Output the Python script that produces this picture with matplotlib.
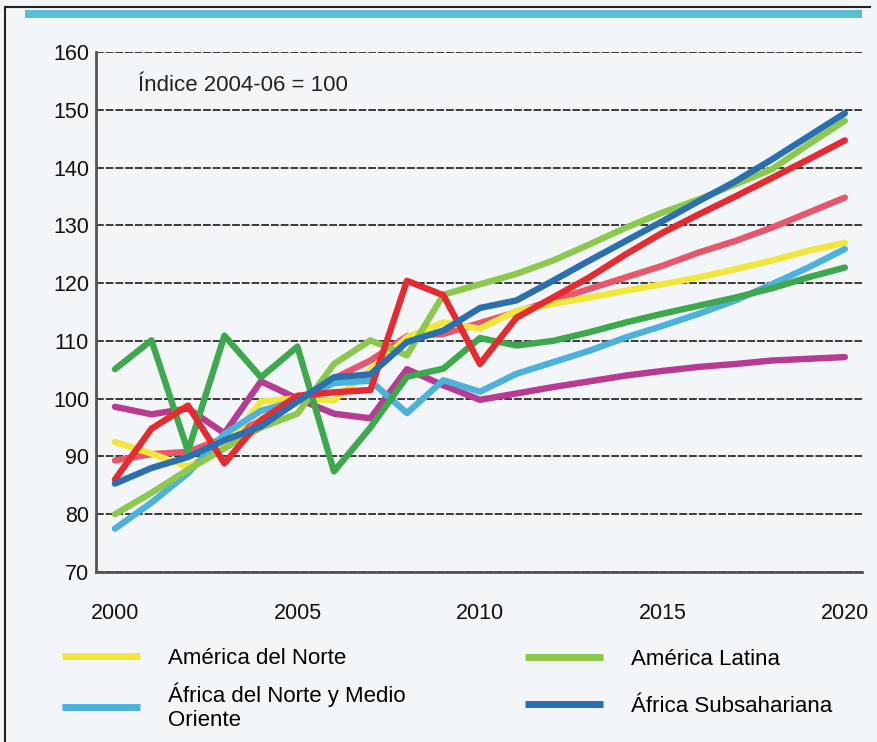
import matplotlib.pyplot as plt
from matplotlib.lines import Line2D
from matplotlib.patches import Rectangle

plt.rcParams['font.family'] = ['Liberation Sans', 'DejaVu Sans']

# años e índices (2004-06 = 100)
years = list(range(2000, 2021))

america_norte = [92.5, 90.5, 88.2, 91.6, 99.5, 100.1, 99.7, 105.0, 110.6, 113.2, 112.1,
                 115.2, 116.4, 117.5, 118.7, 119.8, 121.0, 122.4, 123.9, 125.6, 127.0]
america_latina = [80.0, 83.7, 87.7, 91.4, 95.0, 97.4, 106.0, 110.1, 107.5, 118.0, 119.8,
                  121.6, 123.9, 126.7, 129.6, 132.2, 134.5, 137.1, 139.7, 144.0, 148.1]
africa_norte_mo = [77.5, 82.0, 87.1, 93.9, 97.9, 99.7, 102.7, 103.1, 97.5, 103.2, 101.2,
                   104.3, 106.3, 108.3, 110.6, 112.6, 114.7, 117.0, 119.8, 122.7, 125.9]
africa_subsahariana = [85.3, 88.0, 89.9, 92.8, 95.2, 99.5, 103.7, 104.2, 109.8, 111.8, 115.7,
                       117.0, 120.4, 123.9, 127.3, 130.7, 134.2, 137.6, 141.4, 145.4, 149.4]
rojo = [86.0, 94.8, 98.8, 88.8, 96.3, 100.5, 101.1, 101.5, 120.4, 117.9, 106.0,
        114.0, 117.5, 121.0, 125.0, 128.7, 131.9, 135.0, 138.2, 141.4, 144.7]
rosa = [89.3, 90.4, 90.8, 93.2, 96.2, 99.8, 103.5, 106.6, 110.8, 111.2, 113.1,
        115.0, 117.0, 119.0, 121.0, 123.0, 125.3, 127.3, 129.6, 132.2, 134.8]
verde_oscuro = [105.1, 110.1, 90.9, 110.9, 103.7, 109.0, 87.4, 95.0, 103.8, 105.2, 110.5,
                109.2, 110.0, 111.5, 113.2, 114.7, 116.1, 117.5, 119.1, 121.0, 122.7]
magenta = [98.6, 97.3, 98.3, 94.0, 103.0, 100.0, 97.4, 96.6, 105.1, 102.3, 99.8,
           100.9, 102.0, 103.0, 104.0, 104.8, 105.5, 106.0, 106.6, 106.9, 107.2]

bg = '#f3f6f9'
fig = plt.figure(figsize=(8.77, 7.42), dpi=100, facecolor=bg)
ax = fig.add_axes([96 / 877, 1 - 572 / 742, (862 - 96) / 877, (572 - 52) / 742])
ax.set_facecolor(bg)

lw = 4.6
ax.plot(years, magenta, color='#b83a92', lw=lw, solid_capstyle='round')
ax.plot(years, rosa, color='#e8566b', lw=lw, solid_capstyle='round')
l_norte, = ax.plot(years, america_norte, color='#f0e63c', lw=lw, solid_capstyle='round')
l_nmo, = ax.plot(years, africa_norte_mo, color='#4cb2dc', lw=lw, solid_capstyle='round')
l_lat, = ax.plot(years, america_latina, color='#8cc84b', lw=lw, solid_capstyle='round')
ax.plot(years, verde_oscuro, color='#3ea84c', lw=lw, solid_capstyle='round')
ax.plot(years, rojo, color='#e62a2f', lw=lw, solid_capstyle='round')
l_sub, = ax.plot(years, africa_subsahariana, color='#2a6fae', lw=lw, solid_capstyle='round')

ax.set_xlim(1999.48, 2020.47)
ax.set_ylim(70, 160)
ax.set_yticks(range(70, 161, 10))
ax.set_xticks([2000, 2005, 2010, 2015, 2020])
ax.grid(axis='y', color='#3a3a3a', lw=1.4, linestyle=(0, (4, 1)))
ax.set_axisbelow(True)
for s in ['top', 'right']:
    ax.spines[s].set_visible(False)
for s in ['left', 'bottom']:
    ax.spines[s].set_color('#555555')
    ax.spines[s].set_linewidth(2)
ax.tick_params(axis='both', length=0, labelsize=15.5, colors='#111111')
ax.tick_params(axis='y', pad=5)
ax.tick_params(axis='x', pad=22)

ax.text(0.055, 0.955, 'Índice 2004-06 = 100', transform=ax.transAxes,
        fontsize=16, color='#222222', va='top')

# leyenda en dos bloques para alinear las filas como en el original
leg_opts = dict(loc='upper left', bbox_transform=fig.transFigure, frameon=False,
                fontsize=16, handlelength=3.5, handletextpad=1.25,
                borderpad=0, borderaxespad=0)
leg1 = ax.legend([l_norte, l_nmo],
                 ['América del Norte', 'África del Norte y Medio\nOriente'],
                 bbox_to_anchor=(62 / 877, 1 - 648 / 742), labelspacing=0.6, **leg_opts)
ax.add_artist(leg1)
leg2 = ax.legend([l_lat, l_sub], ['América Latina', 'África Subsahariana'],
                 bbox_to_anchor=(525 / 877, 1 - 649 / 742), labelspacing=1.15, **leg_opts)
for leg in (leg1, leg2):
    for h in leg.legend_handles:
        h.set_linewidth(5)
        h.set_solid_capstyle('butt')

# marco de la página escaneada y franja superior
fig.add_artist(Rectangle((25 / 877, 1 - 18 / 742), (862 - 25) / 877, 8 / 742,
                         transform=fig.transFigure, color='#5bbcd6', lw=0))
fig.add_artist(Line2D([5 / 877, 5 / 877], [0, 1 - 7 / 742], transform=fig.transFigure,
                      color='#222222', lw=1.5))
fig.add_artist(Line2D([5 / 877, 870 / 877], [1 - 7 / 742, 1 - 7 / 742],
                      transform=fig.transFigure, color='#222222', lw=1.5))

fig.savefig('out.png', dpi=100, facecolor=bg)
